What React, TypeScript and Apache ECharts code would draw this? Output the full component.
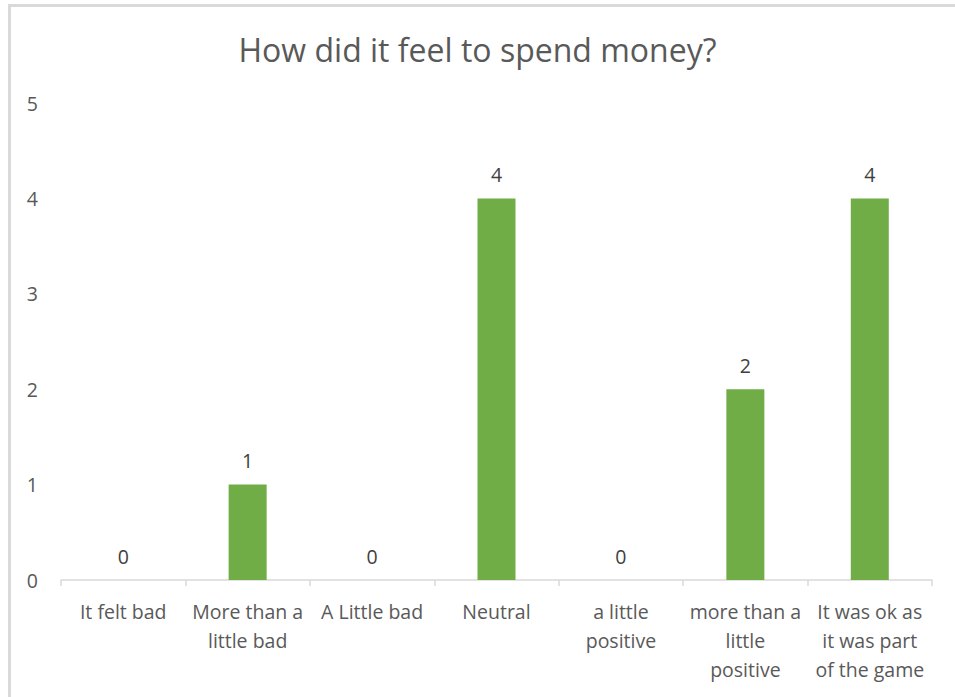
import React, { useEffect, useRef } from "react";
import * as echarts from "echarts";

const titleText = "How did it feel to spend money?";
const categories = [
  "It felt bad",
  "More than a\nlittle bad",
  "A Little bad",
  "Neutral",
  "a little\npositive",
  "more than a\nlittle\npositive",
  "It was ok as\nit was part\nof the game",
];
const counts = [0, 1, 0, 4, 0, 2, 4];
const yTicks = [0, 1, 2, 3, 4, 5];

const FONT = "'Open Sans', 'Noto Sans', sans-serif";
const TEXT = "#595959";

export default function App() {
  const ref = useRef<HTMLDivElement>(null);
  useEffect(() => {
    document.body.style.margin = "0";
    const chart = echarts.init(ref.current!, null, { renderer: "svg" });
    chart.setOption({
      animation: false,
      backgroundColor: "#ffffff",
      title: {
        text: titleText,
        left: "center",
        top: 28,
        textStyle: { fontFamily: FONT, fontSize: 32, fontWeight: "normal", color: TEXT },
      },
      graphic: [
        {
          type: "rect",
          shape: { x: 9.5, y: 5.5, width: 1000, height: 800 },
          style: { fill: "none", stroke: "#d9d9d9", lineWidth: 3 },
          silent: true,
        },
      ],
      grid: { left: 61, right: 23, top: 103, bottom: 117, containLabel: false },
      xAxis: {
        type: "category",
        data: categories,
        boundaryGap: true,
        axisLine: { lineStyle: { color: "#d9d9d9", width: 1.5 } },
        axisTick: { show: true, alignWithLabel: false, length: 6, lineStyle: { color: "#d9d9d9", width: 1.5 } },
        axisLabel: {
          interval: 0,
          margin: 17,
          fontFamily: FONT,
          fontSize: 19.5,
          lineHeight: 29,
          color: TEXT,
          align: "center",
          verticalAlign: "top",
        },
      },
      yAxis: {
        type: "value",
        min: 0,
        max: 5,
        interval: 1,
        splitLine: { show: false },
        axisLine: { show: false },
        axisTick: { show: false },
        axisLabel: {
          margin: 23,
          fontFamily: FONT,
          fontSize: 19.5,
          color: TEXT,
          formatter: (v: number) => (yTicks.includes(v) ? String(v) : ""),
        },
      },
      series: [
        {
          type: "bar",
          data: counts,
          barWidth: 38,
          itemStyle: { color: "#70ad47" },
          label: {
            show: true,
            position: "top",
            distance: 14,
            fontFamily: FONT,
            fontSize: 19.5,
            color: "#404040",
          },
        },
      ],
    });
    return () => chart.dispose();
  }, []);
  return <div ref={ref} style={{ width: 955, height: 697 }} />;
}
